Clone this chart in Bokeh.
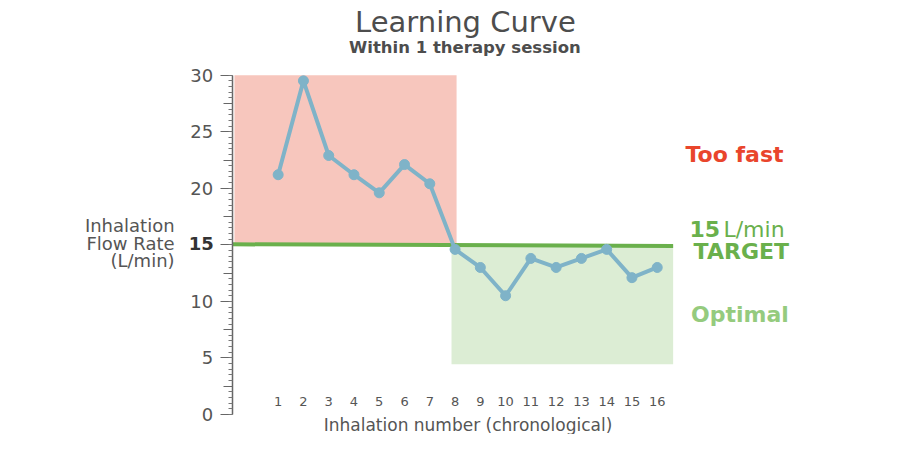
from bokeh.plotting import figure
from bokeh.models import Range1d, FixedTicker, SingleIntervalTicker, LinearAxis
from bokeh.core.properties import value
from bokeh.embed import file_html
from bokeh.resources import INLINE

# ---- data ----
inhalation = list(range(1, 17))
flow_rate = [21.2, 29.5, 22.9, 21.2, 19.6, 22.1, 20.4, 14.6,
             13.0, 10.5, 13.8, 13.0, 13.8, 14.6, 12.1, 13.0]
target_x = [-0.82, 16.63]
target_y = [15.05, 14.9]
zone_left = [-0.73, 7.86]
zone_right = [8.06, 16.63]
zone_bottom = [15, 4.45]
zone_top = [30, 15]
zone_colors = ["#f7c6bd", "#dcedd4"]
mid_ticks = [2.5, 7.5, 12.5, 17.5, 22.5, 27.5]
title_text = "Learning Curve"
subtitle_text = "Within 1 therapy session"
x_label = "Inhalation number (chronological)"
y_label_lines = ["Inhalation", "Flow Rate", "(L/min)"]

AXIS_X = -0.82
FONT = "DejaVu Sans"
GRAY = "#555555"
DARK = "#4d4d4d"

p = figure(width=884, height=434, output_backend="svg", toolbar_location=None,
           x_range=Range1d(-9.988, 24.994), y_range=Range1d(-1.768, 36.605),
           min_border=0, x_axis_location=None, y_axis_location=None)
p.title = None
p.outline_line_color = None
p.grid.visible = False

# zones
p.quad(left=zone_left, right=zone_right, bottom=zone_bottom, top=zone_top,
       fill_color=zone_colors, line_color=None)
# target line
p.line(target_x, target_y, line_color="#6ab04c", line_width=4)
# data
p.line(inhalation, flow_rate, line_color="#7fb3c8", line_width=4)
p.scatter(inhalation, flow_rate, size=10, color="#7fb3c8")

# y axis (fixed inside the frame)
ya = LinearAxis(fixed_location=AXIS_X, bounds=(0, 30),
                ticker=SingleIntervalTicker(interval=5, num_minor_ticks=10))
ya.major_tick_out = 12
ya.major_tick_in = 0
ya.minor_tick_out = 4
ya.minor_tick_in = 0
ya.axis_line_color = "#666666"
ya.axis_line_width = 1.5
ya.major_tick_line_color = "#666666"
ya.minor_tick_line_color = "#777777"
ya.major_label_standoff = 7
ya.major_label_text_font = FONT
ya.major_label_text_font_size = "18px"
ya.major_label_text_color = GRAY
ya.major_label_overrides = {15: ""}
p.add_layout(ya, "left")

ya_mid = LinearAxis(fixed_location=AXIS_X, bounds=(0, 30),
                    ticker=FixedTicker(ticks=mid_ticks, minor_ticks=[]))
ya_mid.major_tick_out = 9
ya_mid.major_tick_in = 0
ya_mid.axis_line_color = None
ya_mid.major_tick_line_color = "#666666"
ya_mid.minor_tick_line_color = None
ya_mid.major_label_text_alpha = 0
p.add_layout(ya_mid, "left")

# x axis
xa = LinearAxis(fixed_location=0, bounds=(1, 16), ticker=FixedTicker(ticks=inhalation))
xa.axis_line_color = None
xa.major_tick_line_color = None
xa.minor_tick_line_color = None
xa.major_tick_out = 0
xa.major_tick_in = 0
xa.major_label_standoff = -18
xa.major_label_text_font = FONT
xa.major_label_text_font_size = "13px"
xa.major_label_text_color = GRAY
xa.axis_label = x_label
xa.axis_label_standoff = 6
xa.axis_label_text_font = FONT
xa.axis_label_text_font_size = "17px"
xa.axis_label_text_font_style = "normal"
xa.axis_label_text_color = GRAY
p.add_layout(xa, "below")

# bold 15 tick label
p.text(x=[-1.55], y=[15.12], text=["15"], text_font=value(FONT), text_font_size="18px",
       text_font_style="bold", text_color="#333333", text_align="right",
       text_baseline="middle")

# y axis label (horizontal, right aligned)
p.text(x=[-3.10, -3.10, -3.10], y=[16.71, 15.15, 13.62], text=y_label_lines,
       text_font=value(FONT), text_font_size="18px", text_color=GRAY,
       text_align="right", text_baseline="middle")

# right-side labels
p.text(x=[17.12], y=[23.02], text=["Too fast"], text_font=value(FONT),
       text_font_size="22px", text_font_style="bold", text_color="#e9452c",
       text_baseline="middle")
p.text(x=[17.28], y=[16.36], text=["15"], text_font=value(FONT),
       text_font_size="22px", text_font_style="bold", text_color="#6ab04c",
       text_baseline="middle")
p.text(x=[18.62], y=[16.36], text=["L/min"], text_font=value(FONT),
       text_font_size="22px", text_color="#6ab04c", text_baseline="middle")
p.text(x=[17.44], y=[14.39], text=["TARGET"], text_font=value(FONT),
       text_font_size="22px", text_font_style="bold", text_color="#6ab04c",
       text_baseline="middle")
p.text(x=[17.34], y=[8.85], text=["Optimal"], text_font=value(FONT),
       text_font_size="22px", text_font_style="bold", text_color="#95cb7e",
       text_baseline="middle")

# titles
p.text(x=[8.41], y=[34.70], text=[title_text], text_font=value(FONT),
       text_font_size="29px", text_color=DARK, text_align="center",
       text_baseline="middle")
p.text(x=[8.39], y=[32.43], text=[subtitle_text], text_font=value(FONT),
       text_font_size="16.5px", text_font_style="bold", text_color=DARK,
       text_align="center", text_baseline="middle")

open("out.html", "w").write(file_html(p, INLINE))
